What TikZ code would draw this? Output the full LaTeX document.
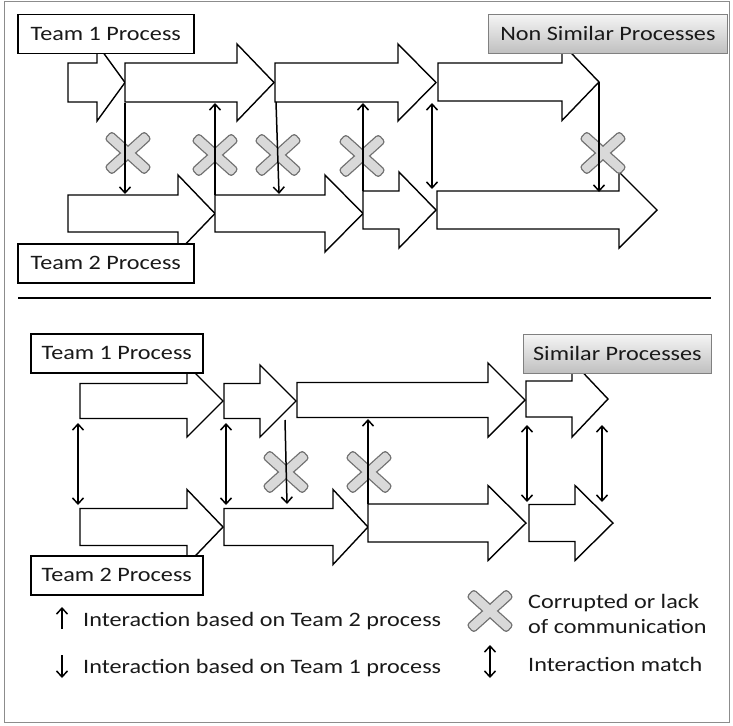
\documentclass[tikz,border=0pt]{standalone}
\usepackage{fontspec}
\setmainfont{Carlito}[FakeStretch=1.18]
\usetikzlibrary{arrows.meta}

% block arrow: start x, head start x, tip x, centre y, shaft half height, head half height
\newcommand{\flowarrow}[6]{%
  \draw[flow] (#1,#4-#5) -- (#2,#4-#5) -- (#2,#4-#6) -- (#3,#4)
    -- (#2,#4+#6) -- (#2,#4+#5) -- (#1,#4+#5) -- cycle;}

\begin{document}
\begin{tikzpicture}[x=1pt,y=-1pt,
  flow/.style={draw=black, fill=white, line width=1.4pt, line join=miter},
  txt/.style={font=\fontsize{20.5}{24}\selectfont, text=black!90, inner sep=0pt},
  teambox/.style={txt, draw=black, fill=white, line width=1.5pt,
    minimum height=39pt, anchor=north west},
  kindbox/.style={txt, draw=black!50, line width=0.8pt, top color=black!4,
    bottom color=black!25, minimum height=39pt, anchor=north west},
  link/.style={line width=1.5pt, black},
  barb/.tip={Straight Barb[length=6pt,width=11pt,line width=1.5pt]},
  tip/.style={-barb},
  bothtips/.style={barb-barb},
  pics/nocomm/.style={code={
    \foreach \a in {42,-42}
      \draw[black!55, line width=1.4pt, fill=black!15, rotate=\a, rounded corners=3pt]
        (-26.5,-5) rectangle (26.5,5);
    \foreach \a in {42,-42}
      \fill[black!15, rotate=\a, rounded corners=2.5pt] (-25.8,-4.3) rectangle (25.8,4.3);
  }}
]
\useasboundingbox (0,0) rectangle (733,725);
\draw[black!45, line width=1pt] (4,1.5) rectangle (729,722);

% ---------- non similar processes ----------
\flowarrow{68}{97}{125}{82.5}{19.5}{38.5}
\flowarrow{125}{237}{274}{82.5}{19.5}{38.5}
\flowarrow{275}{398}{436}{82.5}{19.5}{38.5}
\flowarrow{438}{562}{599}{82}{19}{38.5}

\flowarrow{68}{178}{215}{213.5}{18.5}{38.5}
\flowarrow{215}{325}{363}{213.5}{18.5}{38.5}
\flowarrow{363}{399}{436}{210}{19}{38}
\flowarrow{437}{619}{657}{210}{19}{38}

\node[teambox, minimum width=176pt] (t1a) at (17,14) {Team 1 Process};
\node[teambox, minimum width=176pt] (t2a) at (17,243) {Team 2 Process};
\node[kindbox, minimum width=239pt] (nsim) at (488,14) {Non Similar Processes};

\pic (xa1) at (128,153) {nocomm};
\pic (xa2) at (215,155) {nocomm};
\pic (xa3) at (278,155) {nocomm};
\pic (xa4) at (362,156) {nocomm};
\pic (xa5) at (603,153) {nocomm};

\coordinate (a1s) at (125,103);  \coordinate (a1e) at (125,194);
\coordinate (a2s) at (215,195);  \coordinate (a2e) at (215,103);
\coordinate (a3s) at (276,102);  \coordinate (a3e) at (279,194);
\coordinate (a4s) at (363,191);  \coordinate (a4e) at (363,103);
\coordinate (a5s) at (432,103);  \coordinate (a5e) at (432,189);
\coordinate (a6s) at (599,82);   \coordinate (a6e) at (599,192);
\draw[link, tip] (a1s) -- (a1e);
\draw[link, tip] (a2s) -- (a2e);
\draw[link, tip] (a3s) -- (a3e);
\draw[link, tip] (a4s) -- (a4e);
\draw[link, bothtips] (a5s) -- (a5e);
\draw[link, tip] (a6s) -- (a6e);

% separator
\draw[line width=2pt] (18,298) -- (711,298);

% ---------- similar processes ----------
\flowarrow{80}{187}{223}{401}{17.5}{36}
\flowarrow{224}{260}{296}{401}{17.5}{36}
\flowarrow{297}{488}{525}{400}{17.5}{37}
\flowarrow{526}{572}{608}{399}{18}{38}

\flowarrow{80}{187}{223}{527}{18.5}{37.5}
\flowarrow{224}{333}{368}{527}{18.5}{37.5}
\flowarrow{368}{488}{526}{523}{19}{37.5}
\flowarrow{529}{575}{613}{523}{18.5}{37.5}

\node[teambox, minimum width=172pt] (t1b) at (30,333) {Team 1 Process};
\node[teambox, minimum width=172pt] (t2b) at (30,555) {Team 2 Process};
\node[kindbox, minimum width=188pt] (sim) at (523,334) {Similar Processes};

\pic (xb1) at (286,472) {nocomm};
\pic (xb2) at (369,472) {nocomm};

\coordinate (b1s) at (78,423);   \coordinate (b1e) at (78,505);
\coordinate (b2s) at (226,423);  \coordinate (b2e) at (226,505);
\coordinate (b3s) at (285,420);  \coordinate (b3e) at (287,504);
\coordinate (b4s) at (368,504);  \coordinate (b4e) at (368,419);
\coordinate (b5s) at (527,425);  \coordinate (b5e) at (527,502);
\coordinate (b6s) at (602,425);  \coordinate (b6e) at (602,502);
\draw[link, bothtips] (b1s) -- (b1e);
\draw[link, bothtips] (b2s) -- (b2e);
\draw[link, tip] (b3s) -- (b3e);
\draw[link, tip] (b4s) -- (b4e);
\draw[link, bothtips] (b5s) -- (b5e);
\draw[link, bothtips] (b6s) -- (b6e);

% ---------- legend ----------
\coordinate (lu1) at (62,629);  \coordinate (lu2) at (62,607);
\coordinate (ld1) at (62,655);  \coordinate (ld2) at (62,678);
\coordinate (lm1) at (490,645); \coordinate (lm2) at (490,678);
\draw[link, tip] (lu1) -- (lu2);
\draw[link, tip] (ld1) -- (ld2);
\draw[link, bothtips] (lm1) -- (lm2);
\pic (xl) at (490,611) {nocomm};
\node[txt, anchor=base west] (lt1) at (83,626) {Interaction based on Team 2 process};
\node[txt, anchor=base west] (lt2) at (83,673) {Interaction based on Team 1 process};
\node[txt, anchor=base west] (lt3) at (528,608) {Corrupted or lack};
\node[txt, anchor=base west] (lt4) at (528,633) {of communication};
\node[txt, anchor=base west] (lt5) at (528,671) {Interaction match};
\end{tikzpicture}
\end{document}
